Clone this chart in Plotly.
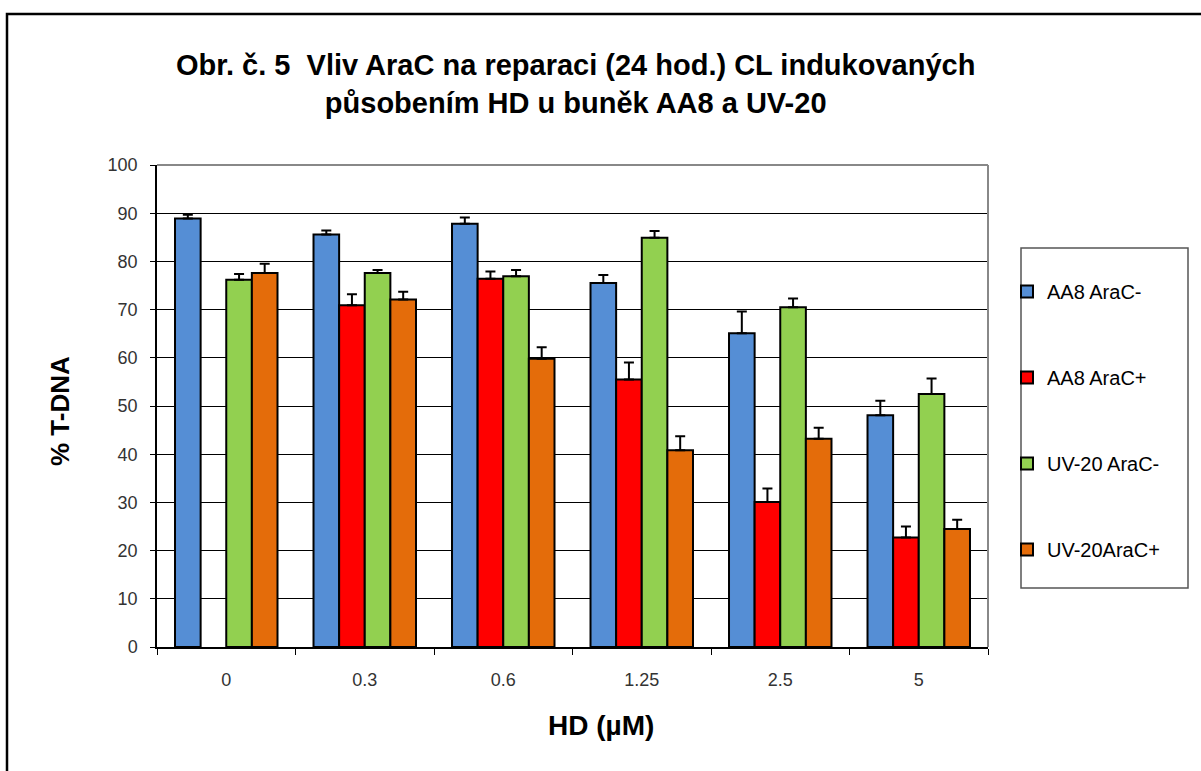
import plotly.graph_objects as go

categories = ["0", "0.3", "0.6", "1.25", "2.5", "5"]
series_names = ["AA8 AraC-", "AA8 AraC+", "UV-20 AraC-", "UV-20AraC+"]
aa8_minus = [88.9, 85.6, 87.8, 75.5, 65.1, 48.1]
aa8_minus_err = [0.8, 0.8, 1.3, 1.7, 4.5, 3.0]
aa8_plus = [None, 70.9, 76.4, 55.5, 30.1, 22.7]
aa8_plus_err = [0, 2.3, 1.5, 3.5, 2.8, 2.3]
uv20_minus = [76.2, 77.6, 76.9, 84.9, 70.5, 52.5]
uv20_minus_err = [1.2, 0.6, 1.3, 1.4, 1.8, 3.2]
uv20_plus = [77.6, 72.1, 59.8, 40.8, 43.2, 24.5]
uv20_plus_err = [1.9, 1.6, 2.4, 2.9, 2.3, 1.9]

colors = ["#558ED5", "#FF0000", "#92D050", "#E46C0A"]
values = [aa8_minus, aa8_plus, uv20_minus, uv20_plus]
errors = [aa8_minus_err, aa8_plus_err, uv20_minus_err, uv20_plus_err]

FONT = "Liberation Sans, Arial, sans-serif"
W, H = 1201, 771
L, R, T, B = 157, 213, 165, 124
PW = W - L - R
PH = H - T - B

def px(x):
    return (x - L) / PW

def py(y):
    return (H - B - y) / PH

fig = go.Figure()
for name, vals, errs, col in zip(series_names, values, errors, colors):
    fig.add_trace(go.Bar(
        x=categories, y=vals, name=name, legendgroup=name,
        marker=dict(color=col, line=dict(color="black", width=2)),
        error_y=dict(type="data", symmetric=False, array=errs,
                     arrayminus=[0] * len(errs), color="black",
                     thickness=2, width=5),
    ))

fig.update_layout(
    width=W, height=H,
    margin=dict(l=L, r=R, t=T, b=B),
    paper_bgcolor="white", plot_bgcolor="white",
    barmode="group", bargap=0.26, bargroupgap=0,
    font=dict(family=FONT, color="black"),
    showlegend=True,
    legend=dict(
        x=px(1007), y=py(272), xanchor="left", yanchor="top",
        font=dict(family=FONT, size=20, color="black"),
        bgcolor="rgba(0,0,0,0)", borderwidth=0,
        tracegroupgap=57, itemclick=False,
    ),
    xaxis=dict(
        type="category", showgrid=False, showline=True, linecolor="black",
        linewidth=1.5, ticks="outside", tickson="boundaries", ticklen=6,
        tickcolor="black", tickwidth=1, ticklabelstandoff=16,
        tickfont=dict(family=FONT, size=18, color="#333333"),
    ),
    yaxis=dict(
        range=[0, 100], dtick=10, showgrid=True, gridcolor="black",
        gridwidth=1, zeroline=False, showline=True, linecolor="black",
        linewidth=1.5, ticks="outside", ticklen=5, tickcolor="black",
        ticklabelstandoff=9,
        tickfont=dict(family=FONT, size=18, color="#333333"),
    ),
)

shapes = [
    dict(type="line", xref="paper", yref="paper", x0=0, x1=1, y0=1, y1=1,
         line=dict(color="#888888", width=2)),
    dict(type="line", xref="paper", yref="paper", x0=1, x1=1, y0=0, y1=1,
         line=dict(color="#888888", width=2)),
    dict(type="rect", xref="paper", yref="paper", x0=px(1021), x1=px(1188),
         y0=py(588), y1=py(248), line=dict(color="#555555", width=1.5)),
    dict(type="rect", xref="paper", yref="paper", x0=px(7), x1=px(1215),
         y0=py(790), y1=py(14), line=dict(color="black", width=2.5)),
]
fig.update_layout(shapes=shapes)

annotations = [
    dict(text="<b>Obr. č. 5  Vliv AraC na reparaci (24 hod.) CL indukovaných<br>působením HD u buněk AA8 a UV-20</b>",
         xref="paper", yref="paper", x=px(575), y=py(84), showarrow=False,
         xanchor="center", yanchor="middle",
         font=dict(family=FONT, size=29, color="black")),
    dict(text="<b>% T-DNA</b>", xref="paper", yref="paper", x=px(60), y=py(411),
         showarrow=False, textangle=-90, xanchor="center", yanchor="middle",
         font=dict(family=FONT, size=26, color="black")),
    dict(text="<b>HD (µM)</b>", xref="paper", yref="paper", x=px(601), y=py(725),
         showarrow=False, xanchor="center", yanchor="middle",
         font=dict(family=FONT, size=28, color="black")),
]
fig.update_layout(annotations=annotations)

fig.write_html("out.html", config={"displayModeBar": False},
               post_script="document.body.style.margin='0';")
